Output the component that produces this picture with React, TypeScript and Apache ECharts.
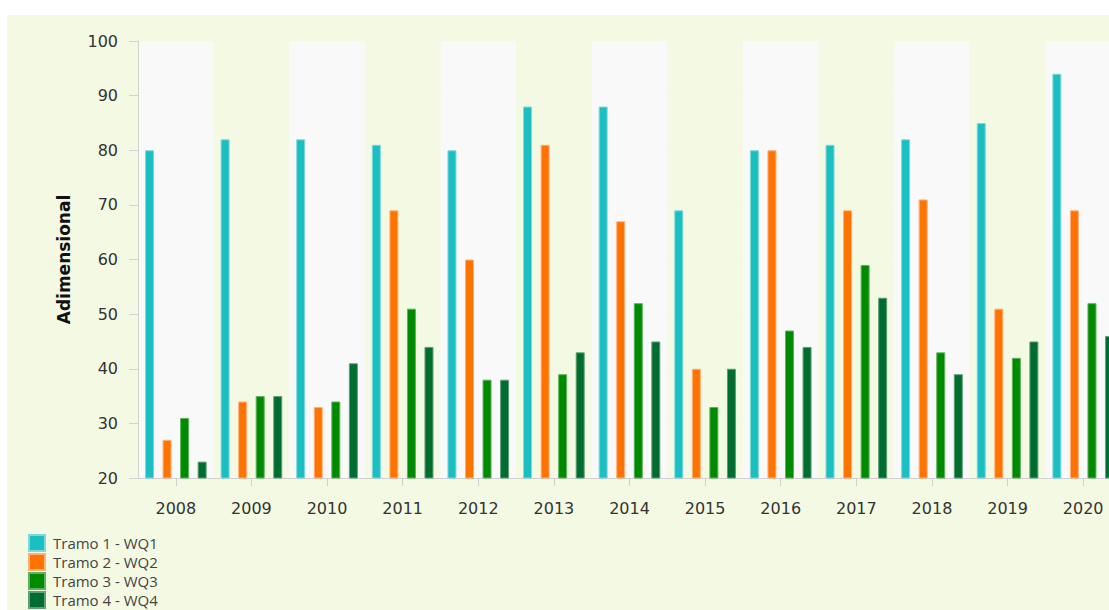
import React, { useEffect, useRef } from "react";
import * as echarts from "echarts";

const categories = ["2008", "2009", "2010", "2011", "2012", "2013", "2014", "2015", "2016", "2017", "2018", "2019", "2020"];
const tramo1 = [80, 82, 82, 81, 80, 88, 88, 69, 80, 81, 82, 85, 94];
const tramo2 = [27, 34, 33, 69, 60, 81, 67, 40, 80, 69, 71, 51, 69];
const tramo3 = [31, 35, 34, 51, 38, 39, 52, 33, 47, 59, 43, 42, 52];
const tramo4 = [23, 35, 41, 44, 38, 43, 45, 40, 44, 53, 39, 45, 46];
const seriesNames = ["Tramo 1 - WQ1", "Tramo 2 - WQ2", "Tramo 3 - WQ3", "Tramo 4 - WQ4"];
const yTicks = { min: 20, max: 100, interval: 10 };

const colors = ["#1bbec1", "#ff7300", "#008a00", "#006d30"];
const borders = ["#7fd9d9", "#ffb07a", "#5fb25f", "#5f9f74"];

export default function App() {
  const ref = useRef<HTMLDivElement>(null);
  useEffect(() => {
    if (!ref.current) return;
    const chart = echarts.init(ref.current, undefined, { renderer: "svg" });
    const data = [tramo1, tramo2, tramo3, tramo4];
    chart.setOption({
      animation: false,
      backgroundColor: "#f4f9e3",
      grid: { left: 131, top: 26, height: 437, right: 16 },
      legend: {
        orient: "vertical",
        left: 21,
        top: 519,
        padding: 0,
        itemWidth: 16,
        itemHeight: 16,
        itemGap: 1,
        icon: "rect",
        data: seriesNames,
        textStyle: { fontFamily: "Open Sans", fontSize: 15, lineHeight: 16, color: "#444", padding: [0, 0, 0, 3] },
      },
      xAxis: {
        type: "category",
        data: categories,
        boundaryGap: true,
        axisLine: { show: true, lineStyle: { color: "#cfcfcf", width: 1 } },
        axisTick: { show: true, alignWithLabel: true, length: 8, lineStyle: { color: "#cfcfcf" } },
        axisLabel: { margin: 22, fontFamily: "DejaVu Sans", fontSize: 16, color: "#333" },
        splitLine: { show: false },
        splitArea: { show: true, areaStyle: { color: ["#f9f9f9", "#f4f9e3"] } },
      },
      yAxis: {
        type: "value",
        min: yTicks.min,
        max: yTicks.max,
        interval: yTicks.interval,
        name: "Adimensional",
        nameLocation: "middle",
        nameGap: 66,
        nameTextStyle: { fontFamily: "DejaVu Sans", fontSize: 17, fontWeight: "bold", color: "#111" },
        axisLine: { show: true, lineStyle: { color: "#d3d3d3", width: 1 } },
        axisTick: { show: true, length: 9, lineStyle: { color: "#d3d3d3" } },
        axisLabel: { margin: 20, fontFamily: "DejaVu Sans", fontSize: 16, color: "#333" },
        splitLine: { show: true, lineStyle: { color: "#dcdcdc", width: 1 } },
      },
      series: seriesNames.map((name, i) => ({
        name,
        type: "bar",
        data: data[i],
        barWidth: 9,
        barGap: "95%",
        itemStyle: { color: colors[i], borderColor: borders[i], borderWidth: 1 },
      })),
    });
    return () => chart.dispose();
  }, []);
  return (
    <div
      style={{
        position: "fixed",
        left: 7,
        top: 15,
        right: 0,
        bottom: 0,
        overflow: "hidden",
        background: "#f4f9e3",
      }}
    >
      <div ref={ref} style={{ position: "absolute", left: 0, top: 0, width: 1130, height: 640 }} />
    </div>
  );
}
